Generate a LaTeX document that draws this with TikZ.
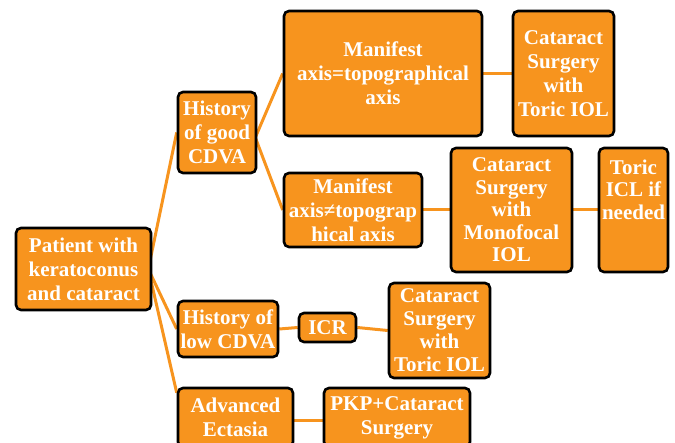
\documentclass[tikz,border=0pt]{standalone}
\usepackage{fontspec}
\setmainfont{Liberation Serif}
\definecolor{boxorange}{RGB}{247,148,30}
\pgfdeclarelayer{background}
\pgfsetlayers{background,main}
\tikzset{
  box/.style={draw=black, line width=2.6pt, fill=boxorange, rounded corners=5pt,
    text=white, font=\fontsize{21}{24}\selectfont\bfseries, align=center,
    inner sep=0pt, anchor=center},
  boxtext/.style={text=white, font=\fontsize{21}{22.5}\selectfont\bfseries, align=center, inner sep=0pt},
  link/.style={draw=boxorange, line width=3pt}
}
\begin{document}
\begin{tikzpicture}[x=1pt, y=-1pt]
\useasboundingbox (0,0) rectangle (675,443);
\node[box, minimum width=135pt, minimum height=82pt] (root) at (83.5,269) {Patient with\\keratoconus\\and cataract};
\node[box, minimum width=78pt, minimum height=81pt] (good) at (217,132.5) {History\\of good\\CDVA};
\node[box, minimum width=100pt, minimum height=56pt] (low) at (228,329) {History of\\low CDVA};
\node[box, minimum width=115pt, minimum height=59pt] (adv) at (235.5,417.5) {Advanced\\Ectasia};
\node[box, minimum width=198pt, minimum height=125pt] (m1) at (383,73.5) {Manifest\\axis=topographical\\axis};
\node[box, minimum width=101pt, minimum height=125pt] (cs1) at (563.5,73.5) {Cataract\\Surgery\\with\\Toric IOL};
\node[box, minimum width=138pt, minimum height=74pt] (m2) at (353,210) {Manifest\\axis≠topograp\\hical axis};
\node[box, minimum width=121pt, minimum height=124pt, font=\fontsize{21}{22.5}\selectfont\bfseries] (mono) at (511.5,210) {Cataract\\Surgery\\with\\Monofocal\\IOL};
\node[box, minimum width=69pt, minimum height=124pt] (icl) at (633.5,210) {};
\node[boxtext, anchor=north] (icltxt) at ([yshift=-13pt]icl.north) {Toric\\ICL if\\needed};
\node[box, minimum width=57pt, minimum height=29pt] (icr) at (327.5,327.5) {ICR};
\node[box, minimum width=101pt, minimum height=95pt, font=\fontsize{21}{23}\selectfont\bfseries] (cs2) at (439.5,330.5) {Cataract\\Surgery\\with\\Toric IOL};
\node[box, minimum width=146pt, minimum height=59pt] (pkp) at (397,417.5) {PKP+Cataract\\Surgery};
\begin{pgfonlayer}{background}
\draw[link] ([xshift=-4pt]root.east) -- (good.west);
\draw[link] ([xshift=-4pt]root.east) -- (low.west);
\draw[link] ([xshift=-4pt]root.east) -- ([yshift=-6pt]adv.north west);
\draw[link] ([yshift=-5pt,xshift=-2pt]good.east) -- (m1.west);
\draw[link] ([yshift=-5pt,xshift=-2pt]good.east) -- (m2.west);
\draw[link] (m1.east) -- (cs1.west);
\draw[link] (m2.east) -- (mono.west);
\draw[link] (mono.east) -- (icl.west);
\draw[link] (low.east) -- (icr.west);
\draw[link] (icr.east) -- (cs2.west);
\draw[link] ([yshift=-3pt]adv.east) -- ([yshift=-3pt]pkp.west);
\end{pgfonlayer}
\end{tikzpicture}
\end{document}
